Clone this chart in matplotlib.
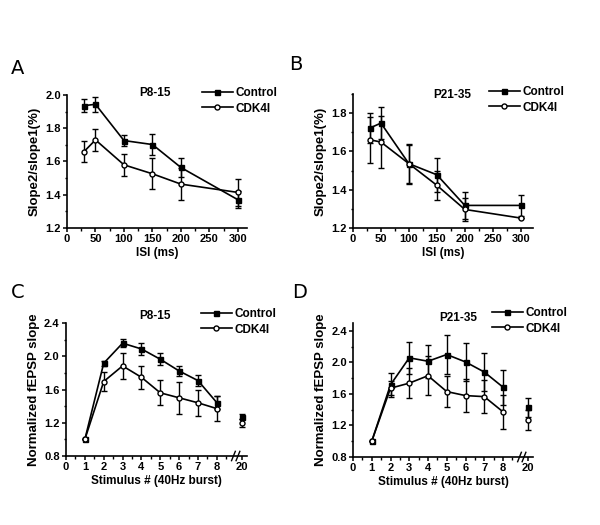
import numpy as np
import matplotlib
matplotlib.use('Agg')
import matplotlib.pyplot as plt
from matplotlib.ticker import MultipleLocator

plt.rcParams['font.family'] = ['Liberation Sans', 'DejaVu Sans']
plt.rcParams['font.weight'] = 'bold'
plt.rcParams['axes.labelweight'] = 'bold'

# paired-pulse data (A, B)
isi = [30, 50, 100, 150, 200, 300]
ctrl_a = [1.936, 1.944, 1.726, 1.702, 1.564, 1.37]
ctrl_a_err = [0.04, 0.045, 0.035, 0.064, 0.056, 0.05]
cdk_a = [1.66, 1.73, 1.58, 1.526, 1.464, 1.414]
cdk_a_err = [0.065, 0.068, 0.065, 0.094, 0.096, 0.08]

ctrl_b = [1.722, 1.748, 1.536, 1.478, 1.318, 1.318]
ctrl_b_err = [0.08, 0.082, 0.1, 0.09, 0.07, 0.055]
cdk_b = [1.661, 1.649, 1.536, 1.423, 1.297, 1.252]
cdk_b_err = [0.12, 0.136, 0.105, 0.075, 0.06, 0.0]

# burst data (C, D)
stim = [1, 2, 3, 4, 5, 6, 7, 8]
stim_last = 20
ctrl_c = [1.0, 1.916, 2.157, 2.088, 1.964, 1.823, 1.707, 1.442]
ctrl_c_err = [0.0, 0.03, 0.045, 0.07, 0.07, 0.06, 0.065, 0.08]
cdk_c = [1.0, 1.696, 1.884, 1.747, 1.56, 1.50, 1.44, 1.37]
cdk_c_err = [0.0, 0.12, 0.155, 0.137, 0.15, 0.19, 0.16, 0.15]
ctrl_c20, ctrl_c20_err = 1.27, 0.03
cdk_c20, cdk_c20_err = 1.20, 0.05

ctrl_d = [1.0, 1.716, 2.058, 2.015, 2.1, 2.006, 1.878, 1.686]
ctrl_d_err = [0.0, 0.15, 0.2, 0.21, 0.25, 0.24, 0.24, 0.22]
cdk_d = [1.0, 1.673, 1.737, 1.831, 1.63, 1.579, 1.566, 1.373]
cdk_d_err = [0.0, 0.09, 0.19, 0.25, 0.2, 0.206, 0.214, 0.214]
ctrl_d20, ctrl_d20_err = 1.429, 0.124
cdk_d20, cdk_d20_err = 1.266, 0.128

x20 = 9.35  # where "20" sits after the axis break

W, H = 600, 525
fig = plt.figure(figsize=(6, 5.25), dpi=100)


def px_axes(x0, x1, y0, y1):
    return fig.add_axes([x0 / W, 1 - y1 / H, (x1 - x0) / W, (y1 - y0) / H])


def style(ax):
    for s in ['top', 'right']:
        ax.spines[s].set_visible(False)
    for s in ['left', 'bottom']:
        ax.spines[s].set_linewidth(1.2)
    ax.tick_params(which='major', direction='out', length=3, width=1.1, labelsize=8, pad=1.5)
    ax.tick_params(which='minor', direction='out', length=1.8, width=1)


def draw(ax, x, c, ce, k, ke):
    kw = dict(color='black', lw=1.2, capsize=2, elinewidth=1, capthick=1, ms=3.6)
    ax.errorbar(x, c, yerr=ce, marker='s', mfc='black', label='Control', **kw)
    ax.errorbar(x, k, yerr=ke, marker='o', mfc='white', mec='black', label='CDK4I', **kw)


def legend(ax, x, y):
    h, l = ax.get_legend_handles_labels()
    h = [hh[0] for hh in h]
    ax.legend(h, l, loc='upper left', bbox_to_anchor=(x / W, 1 - y / H),
              bbox_transform=fig.transFigure, frameon=False, fontsize=8.5,
              handlelength=2.6, handletextpad=0.2, labelspacing=0.3,
              borderpad=0, borderaxespad=0)


# A
ax = px_axes(67, 247, 95, 228)
style(ax)
draw(ax, isi, ctrl_a, ctrl_a_err, cdk_a, cdk_a_err)
ax.set_xlim(0, 316)
ax.set_ylim(1.2, 2.0)
ax.xaxis.set_major_locator(MultipleLocator(50))
ax.xaxis.set_minor_locator(MultipleLocator(25))
ax.yaxis.set_major_locator(MultipleLocator(0.2))
ax.yaxis.set_minor_locator(MultipleLocator(0.1))
ax.set_xlabel('ISI (ms)', fontsize=8.5, labelpad=2)
ax.set_ylabel('Slope2/slope1(%)', fontsize=9.5, labelpad=3)
ax.text(155 / W, 1 - 93 / H, 'P8-15', transform=fig.transFigure, ha='center', va='center', fontsize=8.5)
legend(ax, 202, 87)

# B
ax = px_axes(353, 533, 94, 228)
style(ax)
draw(ax, isi, ctrl_b, ctrl_b_err, cdk_b, cdk_b_err)
ax.set_xlim(0, 322)
ax.set_ylim(1.2, 1.9)
ax.xaxis.set_major_locator(MultipleLocator(50))
ax.xaxis.set_minor_locator(MultipleLocator(25))
ax.yaxis.set_major_locator(MultipleLocator(0.2))
ax.yaxis.set_minor_locator(MultipleLocator(0.1))
ax.set_xlabel('ISI (ms)', fontsize=8.5, labelpad=2)
ax.set_ylabel('Slope2/slope1(%)', fontsize=9.5, labelpad=3)
ax.text(452 / W, 1 - 95 / H, 'P21-35', transform=fig.transFigure, ha='center', va='center', fontsize=8.5)
legend(ax, 489, 86)


def burst(ax, c, ce, k, ke, c20, c20e, k20, k20e, ylim):
    style(ax)
    draw(ax, stim, c, ce, k, ke)
    kw = dict(color='black', capsize=2, elinewidth=1, capthick=1, ms=3.6, ls='none')
    ax.errorbar([x20], [c20], yerr=[c20e], marker='s', mfc='black', **kw)
    ax.errorbar([x20], [k20], yerr=[k20e], marker='o', mfc='white', mec='black', **kw)
    ax.set_xlim(0, 9.6)
    ax.set_ylim(*ylim)
    ax.set_xticks(list(range(9)) + [x20])
    ax.set_xticklabels([str(i) for i in range(9)] + [str(stim_last)])
    ax.set_xticks(np.arange(0.5, 8.6, 1.0), minor=True)
    ax.yaxis.set_major_locator(MultipleLocator(0.4))
    ax.yaxis.set_minor_locator(MultipleLocator(0.2))
    ax.set_xlabel('Stimulus # (40Hz burst)', fontsize=8.5, labelpad=2)
    ax.set_ylabel('Normalized fEPSP slope', fontsize=9.5, labelpad=3)
    # axis break marks
    tr = ax.get_xaxis_transform()
    for dx in (-0.12, 0.12):
        ax.plot([9.0 + dx - 0.1, 9.0 + dx + 0.1], [-0.035, 0.035], color='black',
                lw=1, transform=tr, clip_on=False)


# C
ax = px_axes(66, 247, 323, 456)
burst(ax, ctrl_c, ctrl_c_err, cdk_c, cdk_c_err, ctrl_c20, ctrl_c20_err, cdk_c20, cdk_c20_err, (0.8, 2.4))
ax.text(155 / W, 1 - 316 / H, 'P8-15', transform=fig.transFigure, ha='center', va='center', fontsize=8.5)
legend(ax, 201, 308)

# D
ax = px_axes(353, 533, 323, 457)
burst(ax, ctrl_d, ctrl_d_err, cdk_d, cdk_d_err, ctrl_d20, ctrl_d20_err, cdk_d20, cdk_d20_err, (0.8, 2.5))
ax.text(458 / W, 1 - 318 / H, 'P21-35', transform=fig.transFigure, ha='center', va='center', fontsize=8.5)
legend(ax, 492, 307)

# panel letters
for lab, x, y in [('A', 18, 68), ('B', 296, 65), ('C', 18, 293), ('D', 300, 292)]:
    fig.text(x / W, 1 - y / H, lab, ha='center', va='center', fontsize=14,
             fontweight='normal', family=['Liberation Sans Narrow', 'DejaVu Sans'])

fig.savefig('out.png', dpi=100)
